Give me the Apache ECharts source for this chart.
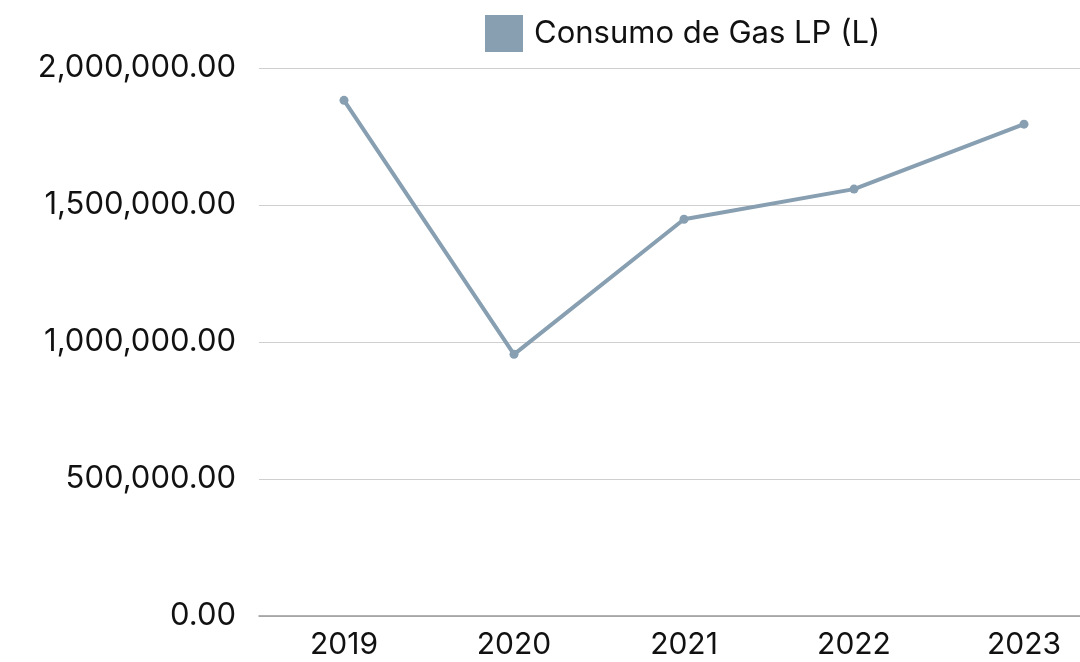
<!DOCTYPE html>
<html>
<head>
<meta charset="utf-8">
<script src="https://cdn.jsdelivr.net/npm/echarts@6/dist/echarts.min.js"></script>
<style>
html, body { margin: 0; padding: 0; background: #fff; }
#chart { width: 1080px; height: 662px; }
</style>
</head>
<body>
<div id="chart"></div>
<script>
// datos
var years = ['2019', '2020', '2021', '2022', '2023'];
var gasLP = [1882000, 955000, 1448000, 1558000, 1795000];
var seriesName = 'Consumo de Gas LP (L)';

var chart = echarts.init(document.getElementById('chart'));
var option = {
	animation: false,
	textStyle: { fontFamily: 'Inter' },
	legend: {
		data: [seriesName],
		top: 10,
		left: 480,
		itemWidth: 38,
		itemHeight: 37,
		itemGap: 12,
		icon: 'rect',
		textStyle: { fontSize: 31, color: '#111', fontFamily: 'Inter', padding: [0, 0, 0, 6] }
	},
	grid: { left: 259, width: 850, top: 68, bottom: 46, containLabel: false, outerBoundsMode: 'none' },
	xAxis: {
		type: 'category',
		data: years,
		boundaryGap: true,
		axisLine: { lineStyle: { color: '#999', width: 1.5 } },
		axisTick: { show: false },
		axisLabel: { fontSize: 30, color: '#111', margin: 14, fontFamily: 'Inter' }
	},
	yAxis: {
		type: 'value',
		min: 0,
		max: 2000000,
		interval: 500000,
		axisLine: { show: false },
		axisTick: { show: false },
		splitLine: { lineStyle: { color: '#cfcfcf' } },
		axisLabel: {
			fontSize: 31, color: '#111', margin: 23, fontFamily: 'Inter',
			formatter: function (v) {
				return v.toLocaleString('en-US', { minimumFractionDigits: 2, maximumFractionDigits: 2 });
			}
		}
	},
	series: [{
		name: seriesName,
		type: 'line',
		data: gasLP,
		symbol: 'circle',
		symbolSize: 9,
		itemStyle: { color: '#879fb1' },
		lineStyle: { color: '#879fb1', width: 4 }
	}]
};
chart.setOption(option);
</script>
</body>
</html>
